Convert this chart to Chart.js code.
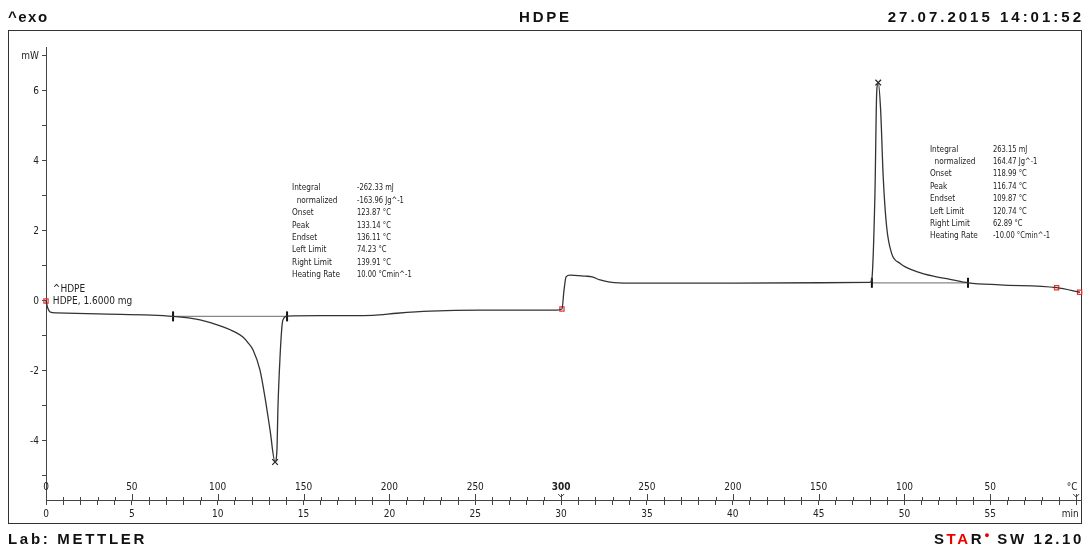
<!DOCTYPE html>
<html>
<head>
<meta charset="utf-8">
<script src="https://cdn.jsdelivr.net/npm/chart.js@4/dist/chart.umd.min.js"></script>
<style>
  body { margin: 0; background: #fff; }
  #wrap { position: relative; width: 1089px; height: 549px; }
  #c { position: absolute; left: 0; top: 0; }
  .frame { position: absolute; left: 8px; top: 30px; width: 1072px; height: 492px; border: 1px solid #333; }
  .hd { position: absolute; font-family: "Liberation Sans", Arial, sans-serif; font-weight: bold; font-size: 15px; color: #111; white-space: nowrap; }
</style>
</head>
<body>
<div id="wrap">
  <div class="frame"></div>
  <canvas id="c" width="1089" height="549"></canvas>
  <div class="hd" style="left:8px; top:8px; letter-spacing:1.5px;">^exo</div>
  <div class="hd" style="left:519px; top:8px; letter-spacing:2.8px;">HDPE</div>
  <div class="hd" style="right:5px; top:8px; letter-spacing:3px;">27.07.2015 14:01:52</div>
  <div class="hd" style="left:8px; top:530px; letter-spacing:2.7px;">Lab: METTLER</div>
  <div class="hd" style="right:5px; top:530px; letter-spacing:2.6px;">S<span style="color:#e00">TA</span>R<sup style="color:#e00;font-size:9px;letter-spacing:1px">&#9679;</sup> SW 12.10</div>
</div>
<script>
// DSC curve, time in min vs heat flow in mW
const times = [0, 0.1, 0.25, 0.6, 3, 7.4, 8.97, 10.31, 10.89, 11.47, 11.76, 12.06, 12.46, 12.75, 13.05, 13.34, 13.45, 13.51, 13.63, 13.74, 13.80, 14.04,
  16, 19.05, 20.44, 22.36, 25.28, 29.76, 30.05, 30.17, 30.29, 30.52, 31.4, 31.8, 32.27, 32.85, 34.0, 40, 47.99, 48.09, 48.28, 48.38,
  48.47, 48.61, 48.76, 48.96, 49.25, 49.73, 50.71, 51.87, 52.65, 53.72, 55.56, 58.86, 60.22];
const heatFlow = [0.0, -0.2, -0.32, -0.34, -0.37, -0.44, -0.54, -0.74, -0.86, -1.03, -1.19, -1.40, -1.97, -2.74, -3.69, -4.6, -4.26, -3.03, -1.6, -0.74, -0.54, -0.43,
  -0.42, -0.41, -0.35, -0.29, -0.26, -0.26, -0.23, 0.31, 0.69, 0.74, 0.71, 0.69, 0.6, 0.54, 0.51, 0.51, 0.53, 0.6, 3.08, 5.94,
  6.24, 5.46, 3.55, 2.12, 1.36, 1.08, 0.84, 0.69, 0.62, 0.52, 0.46, 0.38, 0.25];

// integration limits and peaks
const meltBase = [[7.4, -0.44], [14.04, -0.44]];
const crystBase = [[48.1, 0.52], [53.7, 0.52]];
const peaks = [[13.34, -4.6], [48.47, 6.24]];
const redMarks = [[0, 0], [30.05, -0.23], [58.86, 0.38], [60.2, 0.25]];

// temperature labels on top of the time axis
const tempTimes = [0, 5, 10, 15, 20, 25, 30, 35, 40, 45, 50, 55, 60];
const tempLabels = ['0', '50', '100', '150', '200', '250', '300', '250', '200', '150', '100', '50', '°C'];

const meltText = [['Integral', '-262.33 mJ'], ['  normalized', '-163.96 Jg^-1'], ['Onset', '123.87 °C'], ['Peak', '133.14 °C'],
  ['Endset', '136.11 °C'], ['Left Limit', '74.23 °C'], ['Right Limit', '139.91 °C'], ['Heating Rate', '10.00 °Cmin^-1']];
const crystText = [['Integral', '263.15 mJ'], ['  normalized', '164.47 Jg^-1'], ['Onset', '118.99 °C'], ['Peak', '116.74 °C'],
  ['Endset', '109.87 °C'], ['Left Limit', '120.74 °C'], ['Right Limit', '62.89 °C'], ['Heating Rate', '-10.00 °Cmin^-1']];

const FONT = '"Liberation Sans Narrow", "DejaVu Sans Condensed", "Liberation Sans", sans-serif';
Chart.defaults.font.family = FONT;
Chart.defaults.color = '#222';

const pts = arr => arr.map(p => ({ x: p[0], y: p[1] }));

const extras = {
  id: 'extras',
  afterDraw(chart) {
    const { ctx, scales: { x, y }, chartArea } = chart;
    ctx.save();
    // upper half of time axis ticks
    ctx.strokeStyle = '#444';
    ctx.lineWidth = 1;
    for (let t = 0; t <= 60; t++) {
      const px = Math.round(x.getPixelForValue(t)) + 0.5;
      const len = t % 5 === 0 ? 6 : 3;
      ctx.beginPath();
      ctx.moveTo(px, chartArea.bottom);
      ctx.lineTo(px, chartArea.bottom - len);
      ctx.stroke();
    }
    // temperature labels
    ctx.fillStyle = '#222';
    ctx.textAlign = 'center';
    ctx.textBaseline = 'middle';
    tempTimes.forEach((t, i) => {
      ctx.font = (tempLabels[i] === '300' ? 'bold ' : '') + '10px ' + FONT;
      ctx.fillText(tempLabels[i], x.getPixelForValue(t) - (i === tempTimes.length - 1 ? 4 : 0), chartArea.bottom - 13);
    });
    ctx.font = '10px ' + FONT;
    ctx.fillText('min', x.getPixelForValue(60) - 6, chartArea.bottom + 14);
    // segment marks at 30 and 60 min
    [30, 60].forEach(t => {
      const p = x.getPixelForValue(t);
      ctx.beginPath();
      ctx.moveTo(p - 3, chartArea.bottom - 6);
      ctx.lineTo(p, chartArea.bottom - 3);
      ctx.lineTo(p + 3, chartArea.bottom - 6);
      ctx.stroke();
    });
    // sample labels
    ctx.textAlign = 'left';
    ctx.fillText('^HDPE', x.getPixelForValue(0.4), y.getPixelForValue(0.34));
    ctx.fillText('HDPE, 1.6000 mg', x.getPixelForValue(0.4), y.getPixelForValue(0.0));
    // evaluation results, condensed
    ctx.font = '9.5px ' + FONT;
    const sx = 0.86;
    const block = (rows, t0, t1, v0) => {
      rows.forEach((r, i) => {
        const py = y.getPixelForValue(v0) + i * 12.4;
        ctx.save();
        ctx.translate(x.getPixelForValue(t0), py);
        ctx.scale(sx, 1);
        ctx.fillText(r[0], 0, 0);
        ctx.restore();
        ctx.save();
        ctx.translate(x.getPixelForValue(t1), py);
        ctx.scale(sx * 0.92, 1);
        ctx.fillText(r[1], 0, 0);
        ctx.restore();
      });
    };
    block(meltText, 14.33, 18.11, 3.23);
    block(crystText, 51.48, 55.15, 4.34);
    ctx.restore();
  }
};

new Chart(document.getElementById('c'), {
  type: 'line',
  data: {
    datasets: [
      {
        data: times.map((t, i) => ({ x: t, y: heatFlow[i] })),
        borderColor: '#333',
        borderWidth: 1.3,
        pointRadius: 0,
        cubicInterpolationMode: 'monotone',
        clip: false
      },
      {
        data: pts(meltBase),
        borderColor: '#888',
        borderWidth: 1.2,
        pointStyle: 'line',
        rotation: 90,
        pointRadius: 5,
        pointBorderColor: '#111',
        pointBorderWidth: 2
      },
      {
        data: pts(crystBase),
        borderColor: '#888',
        borderWidth: 1.2,
        pointStyle: 'line',
        rotation: 90,
        pointRadius: 5,
        pointBorderColor: '#111',
        pointBorderWidth: 2
      },
      {
        data: pts(peaks),
        showLine: false,
        pointStyle: 'crossRot',
        pointRadius: 4,
        pointBorderColor: '#222',
        pointBorderWidth: 1.2
      },
      {
        data: pts(redMarks),
        showLine: false,
        pointStyle: 'rect',
        pointRadius: [3, 3, 3, 3],
        pointBackgroundColor: 'rgba(0,0,0,0)',
        pointBorderColor: '#e33',
        pointBorderWidth: 1.2,
        clip: false
      }
    ]
  },
  options: {
    responsive: false,
    animation: false,
    events: [],
    layout: { padding: { left: 8, right: 8, top: 47, bottom: 26 } },
    plugins: { legend: { display: false }, tooltip: { enabled: false } },
    scales: {
      x: {
        type: 'linear',
        min: 0,
        max: 60.28,
        afterFit: s => { s.height = 23; },
        border: { color: '#444', width: 1 },
        grid: { drawOnChartArea: false, tickLength: 5, tickColor: '#444' },
        ticks: {
          stepSize: 1,
          autoSkip: false,
          maxRotation: 0,
          includeBounds: false,
          padding: 3,
          font: { size: 10 },
          callback: v => v % 5 === 0 && v !== 60 ? String(v) : ''
        }
      },
      y: {
        min: -5.686,
        max: 7.257,
        afterFit: s => { s.width = 38; },
        border: { color: '#444', width: 1 },
        grid: { drawOnChartArea: false, tickLength: 4, tickColor: '#444' },
        ticks: {
          stepSize: 1,
          includeBounds: false,
          padding: 3,
          font: { size: 10 },
          callback: v => v === 7 ? 'mW' : (v % 2 === 0 ? String(v) : '')
        }
      }
    }
  },
  plugins: [extras]
});
</script>
</body>
</html>
